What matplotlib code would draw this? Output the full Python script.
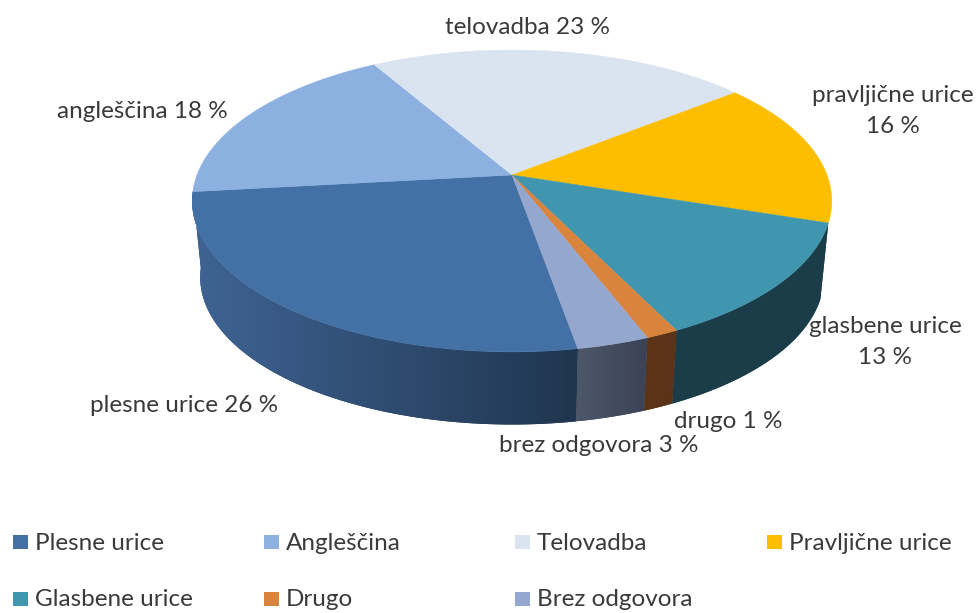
import numpy as np
import matplotlib
matplotlib.use("Agg")
import matplotlib.pyplot as plt
from matplotlib.patches import Polygon, Rectangle
from matplotlib.colors import LinearSegmentedColormap

plt.rcParams['font.family'] = ['Lato', 'DejaVu Sans']

categories = ["Plesne urice", "Angleščina", "Telovadba", "Pravljične urice",
              "Glasbene urice", "Drugo", "Brez odgovora"]
values = [26.0, 18.4, 22.7, 15.7, 12.7, 1.4, 3.1]
colors = ["#4371A6", "#8CB1E1", "#DAE4F0", "#FDBE00", "#4096AE", "#D9843C", "#94A7CE"]
side_left = ["#3F6494", None, None, None, "#1B3D49", "#5C3518", "#4C586A"]
side_right = ["#20354F", None, None, None, "#1B3D49", "#5A3318", "#3C4255"]
slice_labels = ["plesne urice 26 %", "angleščina 18 %", "telovadba 23 %",
                "pravljične urice\n16 %", "glasbene urice\n13 %", "drugo 1 %", "brez odgovora 3 %"]
label_x = [184, 142, 528, 893, 885, 728, 599]
label_y = [405, 111, 28, 111, 342, 422, 446]
legend_x = [13, 264, 515, 767, 13, 264, 515]
legend_y = [542, 542, 542, 542, 599, 599, 599]

# pie projection parameters (pixels)
CX, CY, A, B, K = 512, 175, 315, 146.5, -0.172
SHRINK, DEPTH = 0.975, 77
START = 10.0  # degrees right of the front point


def rim(theta_deg, lower=False):
    t = np.radians(theta_deg)
    X, Y = -np.sin(t), np.cos(t)
    d = 1 + K * Y
    sx, sy = A * X / d, B * Y / d
    if lower:
        return CX + SHRINK * sx, CY + SHRINK * sy + DEPTH
    return CX + sx, CY + sy


fig = plt.figure(figsize=(9.79, 6.13), dpi=100)
ax = fig.add_axes([0, 0, 1, 1])
ax.set_xlim(0, 979)
ax.set_ylim(613, 0)
ax.axis("off")

edges = -START + np.cumsum([0] + values) * 3.6

# side wall
for i in range(len(values)):
    if side_left[i] is None:
        continue
    t = np.linspace(edges[i], edges[i + 1], 120)
    xt, yt = rim(t)
    xb, yb = rim(t, True)
    pts = np.r_[np.c_[xt, yt], np.c_[xb, yb][::-1]]
    poly = Polygon(pts, closed=True, fc=side_right[i], ec="none", zorder=2)
    ax.add_patch(poly)
    cmap = LinearSegmentedColormap.from_list("s", [side_left[i], side_right[i]])
    im = ax.imshow(np.linspace(0, 1, 256)[None, :], cmap=cmap, aspect="auto",
                   extent=(pts[:, 0].min(), pts[:, 0].max(), pts[:, 1].max(), pts[:, 1].min()),
                   zorder=2.1, interpolation="bilinear")
    im.set_clip_path(poly)
ax.set_xlim(0, 979)
ax.set_ylim(613, 0)

# top face
for i, c in enumerate(colors):
    t = np.linspace(edges[i], edges[i + 1], 120)
    xt, yt = rim(t)
    pts = np.r_[[[CX, CY]], np.c_[xt, yt]]
    ax.add_patch(Polygon(pts, closed=True, fc=c, ec=c, lw=0.3, zorder=3))

# labels
TXT = "#3A3A3A"
for s, x, y in zip(slice_labels, label_x, label_y):
    ax.text(x, y, s, ha="center", va="center", fontsize=17.5, color=TXT, zorder=5,
            linespacing=1.6)

# legend
for name, c, x, y in zip(categories, colors, legend_x, legend_y):
    ax.add_patch(Rectangle((x, y - 7), 15, 14, fc=c, ec="none", zorder=5))
    ax.text(x + 22, y + 1, name, ha="left", va="center", fontsize=17.5, color=TXT, zorder=5)

fig.savefig("out.png", dpi=100)
